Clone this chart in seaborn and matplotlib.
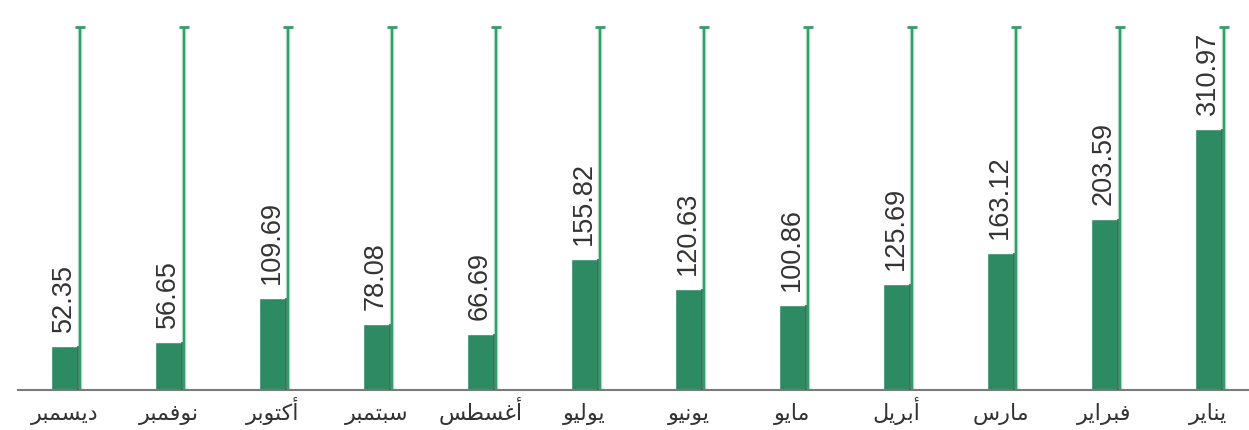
import matplotlib
matplotlib.use("Agg")
import matplotlib.pyplot as plt
import seaborn as sns
import pandas as pd

# Monthly values, laid out right-to-left (January on the far right)
months = ["ديسمبر", "نوفمبر", "أكتوبر", "سبتمبر", "أغسطس", "يوليو",
          "يونيو", "مايو", "أبريل", "مارس", "فبراير", "يناير"]
values = [52.35, 56.65, 109.69, 78.08, 66.69, 155.82,
          120.63, 100.86, 125.69, 163.12, 203.59, 310.97]
track_max = 432  # height of the thin reference track beside each bar

BAR_COLOR = "#2e8a63"
BAR_EDGE = "#1f6a48"
TRACK_COLOR = "#3a9a6d"
TRACK_HALO = "#b9dfcc"
TEXT_COLOR = "#333333"

# Contextual glyph forms (isolated, final, initial, medial) so Arabic
# letters join properly, since matplotlib does no text shaping.
FORMS = {
    "ا": ("\uFE8D", "\uFE8E", None, None),
    "أ": ("\uFE83", "\uFE84", None, None),
    "ب": ("\uFE8F", "\uFE90", "\uFE91", "\uFE92"),
    "ت": ("\uFE95", "\uFE96", "\uFE97", "\uFE98"),
    "د": ("\uFEA9", "\uFEAA", None, None),
    "ر": ("\uFEAD", "\uFEAE", None, None),
    "س": ("\uFEB1", "\uFEB2", "\uFEB3", "\uFEB4"),
    "ط": ("\uFEC1", "\uFEC2", "\uFEC3", "\uFEC4"),
    "غ": ("\uFECD", "\uFECE", "\uFECF", "\uFED0"),
    "ف": ("\uFED1", "\uFED2", "\uFED3", "\uFED4"),
    "ك": ("\uFED9", "\uFEDA", "\uFEDB", "\uFEDC"),
    "ل": ("\uFEDD", "\uFEDE", "\uFEDF", "\uFEE0"),
    "م": ("\uFEE1", "\uFEE2", "\uFEE3", "\uFEE4"),
    "ن": ("\uFEE5", "\uFEE6", "\uFEE7", "\uFEE8"),
    "و": ("\uFEED", "\uFEEE", None, None),
    "ي": ("\uFEF1", "\uFEF2", "\uFEF3", "\uFEF4"),
}


def shape_arabic(word):
    out = []
    for i, ch in enumerate(word):
        if ch not in FORMS:
            out.append(ch)
            continue
        iso, fin, ini, med = FORMS[ch]
        prev = word[i - 1] if i > 0 else None
        nxt = word[i + 1] if i + 1 < len(word) else None
        joins_prev = prev in FORMS and FORMS[prev][2] is not None
        joins_next = nxt in FORMS and ini is not None
        if joins_prev and joins_next:
            out.append(med)
        elif joins_prev:
            out.append(fin)
        elif joins_next:
            out.append(ini)
        else:
            out.append(iso)
    return "".join(reversed(out))


df = pd.DataFrame({"month": months, "value": values})

sns.set_theme(style="white")
plt.rcParams["font.family"] = ["Liberation Sans", "DejaVu Sans"]

W, H = 1249, 430
fig = plt.figure(figsize=(W / 100, H / 100), dpi=100)
px_per_cat = 104.0
first_center = 64.5
ax_left = 18
ax = fig.add_axes([ax_left / W, 40 / H, 1 - ax_left / W, 390 / H])

bar_w = 27 / px_per_cat
sns.barplot(data=df, x="month", y="value", order=months, color=BAR_COLOR,
            width=bar_w, saturation=1, ax=ax, zorder=2)

n = len(months)
xs = list(range(n))
track_off = 15.5 / px_per_cat
cap_half = 5 / px_per_cat

# darker right edge of each bar
ax.vlines([x + bar_w / 2 - 0.5 / px_per_cat for x in xs], 0, values,
          color=BAR_EDGE, lw=1.1, zorder=3)

# thin tracks with a cap at the top
track_x = [x + track_off for x in xs]
ax.vlines(track_x, 0, track_max, color=TRACK_HALO, lw=3.2, zorder=2)
ax.vlines(track_x, 0, track_max, color=TRACK_COLOR, lw=1.6, zorder=3)
ax.hlines([track_max] * n, [t - cap_half for t in track_x],
          [t + cap_half for t in track_x], color=TRACK_COLOR, lw=2.0, zorder=3)

# value labels above bars
for x, v in zip(xs, values):
    ax.annotate(f"{v:.2f}", (x, v), xytext=(-1, 14), textcoords="offset pixels",
                rotation=90, ha="center", va="bottom", fontsize=19.5,
                color=TEXT_COLOR, family="Liberation Sans")

x_left = (ax_left - first_center) / px_per_cat
x_right = (W - first_center) / px_per_cat
ax.set_xlim(x_left, x_right)
ax.set_ylim(0, 390 / 0.84)

ax.set_xticks(xs)
ax.set_xticklabels([shape_arabic(m) for m in months], fontsize=16,
                   color=TEXT_COLOR, family=["DejaVu Sans"])
ax.tick_params(axis="x", length=0, pad=21.5)
for lbl in ax.get_xticklabels():
    lbl.set_verticalalignment("baseline")
ax.set_yticks([])
ax.set_xlabel("")
ax.set_ylabel("")

for side in ["top", "right", "left"]:
    ax.spines[side].set_visible(False)
ax.spines["bottom"].set_color("#7a7a7a")
ax.spines["bottom"].set_linewidth(1.5)
ax.set_facecolor("white")
fig.patch.set_facecolor("white")

fig.savefig("out.png", dpi=100, facecolor="white")
